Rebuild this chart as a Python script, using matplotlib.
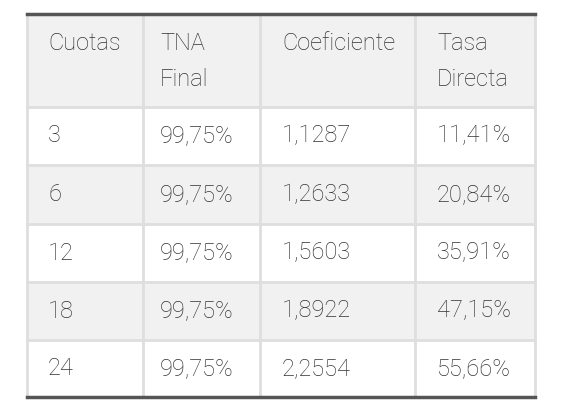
import matplotlib.pyplot as plt
from matplotlib.patches import Rectangle

headers = [["Cuotas"], ["TNA", "Final"], ["Coeficiente"], ["Tasa", "Directa"]]
cuotas = ["3", "6", "12", "18", "24"]
tna = ["99,75%", "99,75%", "99,75%", "99,75%", "99,75%"]
coef = ["1,1287", "1,2633", "1,5603", "1,8922", "2,2554"]
tasa = ["11,41%", "20,84%", "35,91%", "47,15%", "55,66%"]

W, H = 562, 416
fig = plt.figure(figsize=(W / 100, H / 100), dpi=100)
ax = fig.add_axes([0, 0, 1, 1])
ax.set_xlim(0, W)
ax.set_ylim(H, 0)
ax.axis("off")

col_x = [27, 143, 260, 415, 535]
text_x = [48, 160, 282, 437]
row_y = [14, 107, 165, 224, 282, 340, 397]
grey = "#f1f1f1"
line_c = "#dedede"
txt_c = "#333333"
fs = 17
fam = ["Roboto", "DejaVu Sans"]

rows = [list(r) for r in zip(cuotas, tna, coef, tasa)]
for i in range(len(row_y) - 1):
    bg = grey if i % 2 == 0 else "white"
    ax.add_patch(Rectangle((col_x[0], row_y[i]), col_x[-1] - col_x[0],
                           row_y[i + 1] - row_y[i], facecolor=bg, edgecolor="none"))

for x in col_x:
    ax.plot([x, x], [row_y[0], row_y[-1]], color=line_c, lw=2)
for y in row_y[1:-1]:
    ax.plot([col_x[0], col_x[-1]], [y, y], color=line_c, lw=2)
ax.plot([col_x[0], col_x[-1]], [row_y[0], row_y[0]], color="#555555", lw=2.5)
ax.plot([col_x[0], col_x[-1]], [row_y[-1], row_y[-1]], color="#555555", lw=2.5)

for j, h in enumerate(headers):
    for k, line in enumerate(h):
        ax.text(text_x[j], 44 + k * 35, line, fontsize=fs, color=txt_c,
                family=fam, fontweight="light", va="center", ha="left")

for i, r in enumerate(rows):
    yc = (row_y[i + 1] + row_y[i + 2]) / 2
    for j, v in enumerate(r):
        ax.text(text_x[j], yc, v, fontsize=fs, color=txt_c,
                family=fam, fontweight="light", va="center", ha="left")

fig.savefig("out.png", dpi=100, facecolor="white")
